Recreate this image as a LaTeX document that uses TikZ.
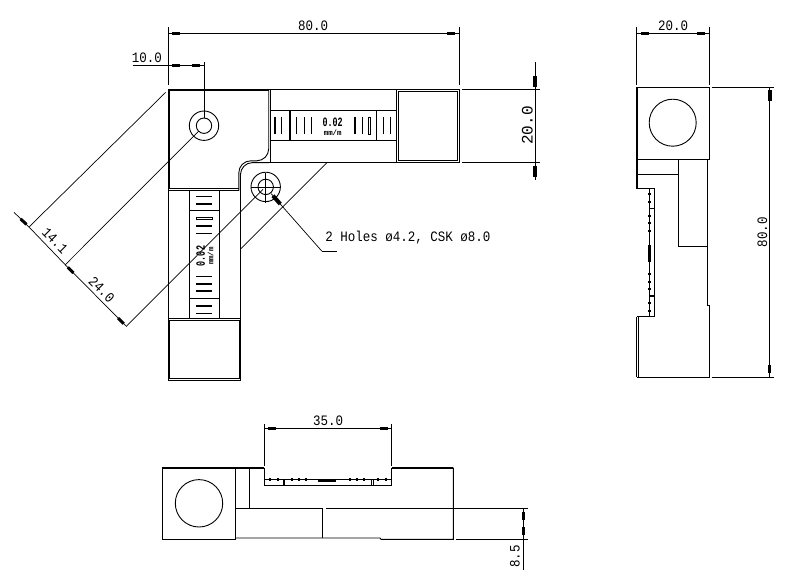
\documentclass[tikz,border=0pt]{standalone}
\usepackage{fontspec}
\usepackage{graphicx}
\setmainfont{Liberation Mono}
\usetikzlibrary{decorations.markings}
\newcommand{\cadtext}[1]{\scalebox{1}[1.15]{#1}}
\newcommand{\scaletop}{\scalebox{1.12}[1.7]{0.02}}
\newcommand{\scaleunit}{\scalebox{1.05}[1.1]{mm/m}}
\tikzset{
  outline/.style={line width=0.9pt},
  thickedge/.style={line width=2pt},
  leader/.style={line width=0.7pt},
  tickmark/.style={line width=1.3pt},
  dimtext/.style={font=\fontsize{12.5}{14}\selectfont, inner sep=0pt},
  bigtext/.style={font=\fontsize{16}{18}\selectfont, inner sep=0pt},
  scaletext/.style={font=\fontsize{7.5}{8}\selectfont\bfseries, inner sep=0pt},
  unittext/.style={font=\fontsize{7}{7}\selectfont\bfseries, inner sep=0pt},
  headstart/.style={decoration={markings, mark=at position 4pt with {\fill (0pt,-1.5pt) rectangle (8pt,1.5pt);}}, postaction=decorate},
  headend/.style={decoration={markings, mark=at position -4pt with {\fill (-8pt,-1.5pt) rectangle (0pt,1.5pt);}}, postaction=decorate},
  headboth/.style={decoration={markings, mark=at position 4pt with {\fill (0pt,-1.5pt) rectangle (8pt,1.5pt);}, mark=at position -4pt with {\fill (-8pt,-1.5pt) rectangle (0pt,1.5pt);}}, postaction=decorate},
  bigstart/.style={decoration={markings, mark=at position 3pt with {\fill (0pt,-2pt) rectangle (11pt,2pt);}}, postaction=decorate},
  bigend/.style={decoration={markings, mark=at position -2.5pt with {\fill (-11pt,-2pt) rectangle (0pt,2pt);}}, postaction=decorate}
}
\begin{document}
\begin{tikzpicture}[x=1pt,y=-1pt,outline]
\useasboundingbox (0,0) rectangle (786,579);

% plan view, square corner
\draw [thickedge] (168,90) -- (269,90);
\draw (168,90) -- (168,380) -- (240.5,380) -- (240.5,173);
\draw (169.7,91) -- (169.7,188.8) -- (238.6,188.8);
\draw (168,190.6) -- (239.3,190.6);
\draw [rounded corners=12pt] (238.8,190.6) -- (238.8,160.8) -- (268.7,160.8) -- (268.7,90);
\draw [rounded corners=12pt] (240.5,190.6) -- (240.5,162.6) -- (269,162.6);

% plan view, horizontal arm
\draw (269,89.5) -- (459,89.5) -- (459,162.7) -- (269,162.7);
\draw (270,89.5) -- (270,162.7);
\draw (396.7,89.5) -- (396.7,162.7);
\draw (398.4,91.7) rectangle (457.2,160.9);
\draw (270,110.7) -- (396.7,110.7);
\draw (270,140.7) -- (396.7,140.7);
\draw [tickmark] (290,110.7) -- (290,140.7);
\draw [tickmark] (376.7,110.7) -- (376.7,140.7);
\foreach \tx in {275,281.7,296.7,304.3,311.7,355,362.7,383.3,390.7}
  \draw [tickmark] (\tx,117.3) -- (\tx,134);
\draw [line width=0.6pt] (368.3,117.3) rectangle (370.7,134);
\node [scaletext] (scaleh) at (332.7,122.3) {\scaletop};
\node [unittext] (unith) at (332.7,132.5) {\scaleunit};

% plan view, vertical arm
\draw (168,318.3) -- (240.5,318.3);
\draw (169.7,320) rectangle (239,378.4);
\draw (189.3,190.6) -- (189.3,318.3);
\draw (219.3,190.6) -- (219.3,318.3);
\draw [tickmark] (189.3,210.7) -- (219.3,210.7);
\draw [tickmark] (189.3,298.7) -- (219.3,298.7);
\foreach \ty in {196.5,204,226,233.3,276.7,284,291,306,313.3}
  \draw [tickmark] (196,\ty) -- (212,\ty);
\draw [line width=0.6pt] (196,217.3) rectangle (212,219.5);
\node [scaletext, rotate=90] (scalev) at (200.7,256) {\scaletop};
\node [unittext, rotate=90] (unitv) at (210.5,256) {\scaleunit};

% holes
\draw (204,125.7) circle (14.7pt) circle (7.7pt);
\draw (265.7,186.9) circle (14.7pt) circle (7.7pt);
\draw [leader] (251,186.9) -- (280.7,186.9);
\draw [leader] (265.7,172.7) -- (265.7,202.7);

% diagonal dimensions
\draw [leader] (165.7,92.3) -- (29.3,226.7);
\draw [leader] (198.6,131.3) -- (65,265);
\draw [leader] (263,189.3) -- (126.7,326);
\draw [leader] (327,162.7) -- (240.7,249);
\draw [leader, headend] (14,212.3) -- (29.3,227.3);
\draw [leader] (29.3,227.3) -- (65,264.5);
\draw [leader, headboth] (65,264.5) -- (126.7,326.7);
\node [dimtext, rotate=-45] (dima) at (55,240.5) {\cadtext{14.1}};
\node [dimtext, rotate=-45] (dimb) at (101.7,289.5) {\cadtext{24.0}};

% top dimensions
\draw (168,27) -- (168,85);
\draw (459,27) -- (459,85);
\draw [headboth] (168,33) -- (459,33);
\node [dimtext] (dimc) at (313,25.5) {\cadtext{80.0}};
\draw (204,62) -- (204,118);
\draw [headboth] (168,65) -- (204,65);
\draw (132.5,65) -- (168,65);
\node [dimtext] (dimd) at (147,58) {\cadtext{10.0}};

% 20 on the right of plan
\draw (462,89.5) -- (540,89.5);
\draw (462,162.7) -- (540,162.7);
\draw [bigend] (535.3,62) -- (535.3,89.5);
\draw (535.3,89.5) -- (535.3,162.7);
\draw [bigstart] (535.3,162.7) -- (535.3,180);
\node [bigtext, rotate=90] (dime) at (527.3,125.5) {20.0};

% hole callout
\coordinate (calloutend) at (321.7,251);
\draw [leader, bigstart] (271,193.5) -- (calloutend);
\draw [leader] (calloutend) -- (337.3,251);
\node [dimtext, anchor=west] (callout) at (325,237.3) {\cadtext{2 Holes ø4.2, CSK ø8.0}};

% side view
\draw (637.3,87.3) rectangle (709.3,159.3);
\draw (672.7,122.7) circle (23.5pt);
\draw (636.7,87.3) -- (636.7,188) -- (654.3,188) -- (654.3,316.3) -- (637.3,316.3);
\draw (637.3,159.3) -- (637.3,188);
\draw (637.3,174.3) -- (678.3,174.3);
\draw (678.3,159.3) -- (678.3,246) -- (707.3,246);
\draw (707.3,159.3) -- (707.3,305.3) -- (709.3,305.3) -- (709.3,377) -- (637.3,377);
\draw (636.7,317) -- (636.7,377);
\draw (638.3,316.3) -- (638.3,377);
\draw [leader] (649.3,188) -- (649.3,316.3);
\foreach \ty in {194,201.7,216,223.3,230.7,274,281.7,289,303,311}
  \fill (648,\ty-1) rectangle (650.6,\ty+1);
\draw [tickmark] (649.3,208.7) -- (654.3,208.7);
\draw [tickmark] (649.3,296) -- (654.3,296);
\draw [line width=2.5pt] (649.3,245) -- (649.3,261.7);

% side view dimensions
\draw (636.7,27) -- (636.7,85);
\draw (709.3,27) -- (709.3,85);
\draw [headboth] (636.7,33) -- (709.3,33);
\node [dimtext] (dimf) at (673,25.5) {\cadtext{20.0}};
\draw (711.7,87.3) -- (774,87.3);
\draw (711.7,377) -- (774,377);
\draw [bigstart] (769.7,87.3) -- (769.7,230);
\draw [headend] (769.7,230) -- (769.7,377);
\node [dimtext, rotate=90] (dimg) at (762.3,232) {\cadtext{80.0}};

% bottom view
\draw [thickedge] (162.3,467.7) -- (264.3,467.7);
\draw [thickedge] (391.7,467.7) -- (453.3,467.7);
\draw (162.3,467.7) rectangle (235.7,539.3);
\draw (199,503.3) circle (23.7pt);
\draw (249.3,467.7) -- (249.3,508.3);
\draw (235.7,508.3) -- (322.3,508.3);
\draw (326,508.3) -- (527.7,508.3);
\draw (322.3,508.3) -- (322.3,538);
\draw (235.7,538) -- (380,538) -- (381,539.3) -- (453.3,539.3) -- (453.3,467.7);
\draw (456,539.3) -- (527.7,539.3);
\draw (264.3,467.7) -- (264.3,485.3) -- (391.7,485.3) -- (391.7,467.7);
\draw [leader] (264.3,479.3) -- (391.7,479.3);
\foreach \tx in {270,277.7,291.7,299,306,350,356.7,364,378.3,385.7}
  \fill (\tx-1,478.2) rectangle (\tx+1,481);
\draw [tickmark] (284,479.3) -- (284,485.3);
\draw [line width=0.6pt] (371,479.3) rectangle (372.8,485.3);
\draw [line width=2.5pt] (318.3,480.3) -- (335.7,480.3);

% bottom view dimensions
\draw (264.3,424) -- (264.3,465.7);
\draw (391.7,424) -- (391.7,465.7);
\draw [headboth] (264.3,428.3) -- (391.7,428.3);
\node [dimtext] (dimh) at (328,420.7) {\cadtext{35.0}};
\draw [headboth] (523.3,508.3) -- (523.3,539.3);
\draw (523.3,539.3) -- (523.3,570);
\node [dimtext, rotate=90] (dimi) at (515,556.7) {\cadtext{8.5}};
\end{tikzpicture}
\end{document}
